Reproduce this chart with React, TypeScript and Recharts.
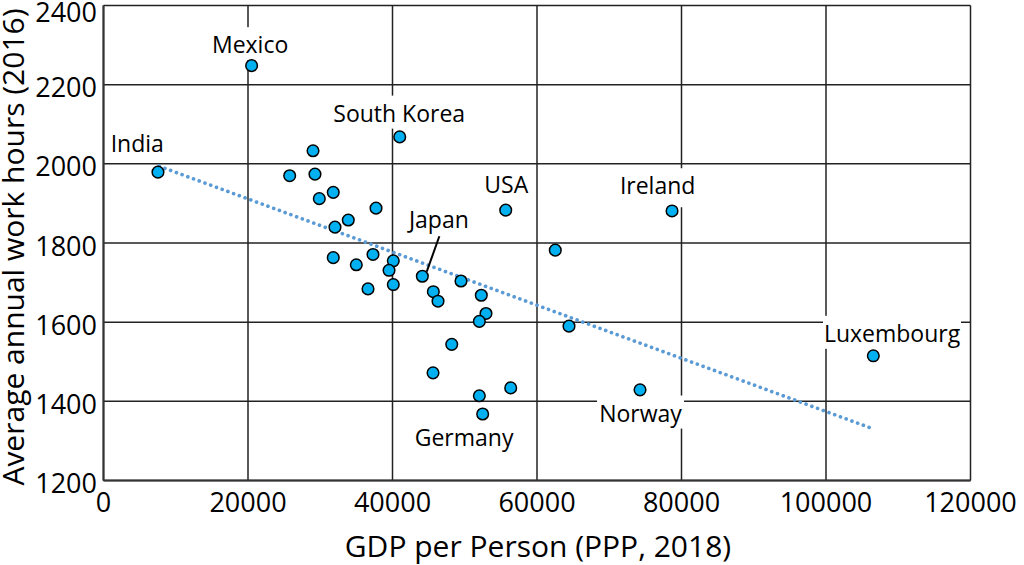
import React from "react";
import {
    ScatterChart,
    Scatter,
    XAxis,
    YAxis,
    CartesianGrid,
} from "recharts";

// GDP per person (PPP, 2018) and average annual work hours (2016)
const gdpPerPerson = [
    7540, 20500, 41000, 29000, 25770, 29270, 31800, 29870, 37720, 33880,
    32040, 55670, 62530, 31800, 37300, 34990, 40110, 39520, 40110, 36610,
    44130, 45650, 46300, 49480, 52290, 52940, 52020, 64430, 48200, 45610,
    52020, 56360, 52480, 78690, 74260, 106550,
];
const annualHours = [
    1979, 2248, 2068, 2033, 1970, 1974, 1928, 1912, 1888, 1858,
    1840, 1883, 1782, 1763, 1771, 1745, 1755, 1731, 1695, 1684,
    1716, 1677, 1653, 1704, 1668, 1622, 1602, 1590, 1544, 1472,
    1414, 1434, 1368, 1881, 1429, 1515,
];
const countryNames = [
    "India", "Mexico", "South Korea", "", "", "", "", "", "", "",
    "", "USA", "", "", "", "", "", "", "", "",
    "Japan", "", "", "", "", "", "", "", "", "",
    "", "", "Germany", "Ireland", "Norway", "Luxembourg",
];

// trend line end points
const trendGdp = [7700, 106600];
const trendHours = [1994, 1330];

const xTicks = [0, 20000, 40000, 60000, 80000, 100000, 120000];
const yTicks = [1200, 1400, 1600, 1800, 2000, 2200, 2400];

const points = gdpPerPerson.map((g, i) => ({
    x: g,
    y: annualHours[i],
    name: countryNames[i],
}));
const labelled = points.filter((p) => p.name !== "");
const trend = trendGdp.map((g, i) => ({ x: g, y: trendHours[i] }));

// label placement relative to the point (dy = text baseline)
const labelLayout: {
    [key: string]: {
        dx: number;
        dy: number;
        w: number;
        below?: number;
        leader?: number[];
    };
} = {
    India: { dx: -20.7, dy: -20.6, w: 51 },
    Mexico: { dx: -1.5, dy: -12.5, w: 76 },
    "South Korea": { dx: -0.5, dy: -15.3, w: 131 },
    USA: { dx: 0.6, dy: -17.3, w: 43 },
    Japan: { dx: 16.5, dy: -48, w: 61, leader: [17, -40, 4.4, -4.6] },
    Germany: { dx: -18.6, dy: 32, w: 97 },
    Norway: { dx: 0.5, dy: 31.7, w: 81 },
    Luxembourg: { dx: 18.7, dy: -14, w: 132 },
    Ireland: { dx: -14.4, dy: -16.7, w: 73, below: 13 },
};

const FONT = "'Open Sans', sans-serif";

function Dot(props: any) {
    const { cx, cy } = props;
    if (cx == null || cy == null) return <g />;
    return (
        <circle
            cx={cx}
            cy={cy}
            r={5.8}
            fill="#00B0F0"
            stroke="#000"
            strokeWidth={1.5}
        />
    );
}

function CountryLabel(props: any) {
    const { cx, cy, payload } = props;
    const lay = labelLayout[payload.name];
    if (!lay || cx == null) return <g />;
    const tx = cx + lay.dx;
    const ty = cy + lay.dy;
    const below = lay.below ?? 7;
    return (
        <g>
            <rect
                x={tx - lay.w / 2 - 3}
                y={ty - 26}
                width={lay.w + 6}
                height={26 + below}
                fill="#fff"
            />
            <text
                x={tx}
                y={ty}
                textAnchor="middle"
                fontSize={23}
                fontFamily={FONT}
                fill="#000"
            >
                {payload.name}
            </text>
            {lay.leader && (
                <line
                    x1={cx + lay.leader[0]}
                    y1={cy + lay.leader[1]}
                    x2={cx + lay.leader[2]}
                    y2={cy + lay.leader[3]}
                    stroke="#000"
                    strokeWidth={2}
                />
            )}
        </g>
    );
}

function XTick(props: any) {
    const { x, y, payload } = props;
    return (
        <text
            x={x}
            y={y + 31}
            textAnchor="middle"
            fontSize={27}
            fontFamily={FONT}
            fill="#000"
        >
            {payload.value}
        </text>
    );
}

function YTick(props: any) {
    const { x, y, payload } = props;
    return (
        <text
            x={x - 6.5}
            y={y + 12.5}
            textAnchor="end"
            fontSize={27}
            fontFamily={FONT}
            fill="#000"
        >
            {payload.value}
        </text>
    );
}

function XTitle() {
    return (
        <text
            x={538}
            y={557}
            textAnchor="middle"
            fontSize={30}
            fontFamily={FONT}
            fill="#000"
        >
            GDP per Person (PPP, 2018)
        </text>
    );
}

function YTitle() {
    return (
        <text
            x={24}
            y={247}
            transform="rotate(-90, 24, 247)"
            textAnchor="middle"
            fontSize={30}
            fontFamily={FONT}
            fill="#000"
        >
            Average annual work hours (2016)
        </text>
    );
}

export default function App() {
    return (
        <div
            style={{
                position: "absolute",
                left: 0,
                top: 0,
                width: 1024,
                height: 565,
                background: "#fff",
            }}
        >
            <ScatterChart
                width={1024}
                height={565}
                margin={{ top: 5.5, right: 53.5, bottom: 0, left: 0 }}
            >
                <CartesianGrid stroke="#222" strokeWidth={1.5} />
                <XAxis
                    type="number"
                    dataKey="x"
                    domain={[0, 120000]}
                    ticks={xTicks}
                    height={84.5}
                    tickSize={0}
                    tickMargin={0}
                    tickLine={false}
                    tick={<XTick />}
                    axisLine={{ stroke: "#333", strokeWidth: 2 }}
                    label={<XTitle />}
                />
                <YAxis
                    type="number"
                    dataKey="y"
                    domain={[1200, 2400]}
                    ticks={yTicks}
                    width={103.5}
                    tickSize={0}
                    tickMargin={0}
                    tickLine={false}
                    tick={<YTick />}
                    axisLine={{ stroke: "#333", strokeWidth: 2 }}
                    label={<YTitle />}
                />
                <Scatter
                    data={trend}
                    isAnimationActive={false}
                    line={{
                        stroke: "#5B9BD5",
                        strokeWidth: 3.6,
                        strokeDasharray: "0.1 6",
                        strokeLinecap: "round",
                    }}
                    shape={() => <g />}
                    legendType="none"
                />
                <Scatter
                    data={labelled}
                    isAnimationActive={false}
                    shape={<CountryLabel />}
                    legendType="none"
                />
                <Scatter
                    data={points}
                    isAnimationActive={false}
                    shape={<Dot />}
                    legendType="none"
                />
            </ScatterChart>
        </div>
    );
}
